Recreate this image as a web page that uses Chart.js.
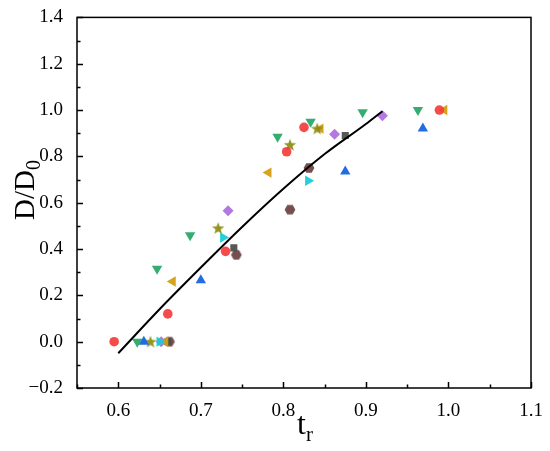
<!DOCTYPE html>
<html>
<head>
<meta charset="utf-8">
<script src="https://cdn.jsdelivr.net/npm/chart.js@4.4.1/dist/chart.umd.min.js"></script>
<style>
  html, body { margin: 0; padding: 0; background: #fff; }
  #wrap { width: 550px; height: 451px; }
</style>
</head>
<body>
<div id="wrap"><canvas id="chart"></canvas></div>
<script>
// data: [tr, D/D0]
const redCircles   = [[0.595, 0], [0.66, 0.12], [0.73, 0.39], [0.804, 0.82], [0.825, 0.925], [0.989, 1.0]];
const greenDown    = [[0.623, 0], [0.647, 0.315], [0.687, 0.46], [0.793, 0.885], [0.833, 0.95], [0.896, 0.99], [0.963, 1.0]];
const blueUp       = [[0.631, 0], [0.70, 0.265], [0.875, 0.735], [0.969, 0.92]];
const oliveStars   = [[0.639, 0], [0.721, 0.49], [0.808, 0.85], [0.841, 0.92]];
const cyanRight    = [[0.65, 0], [0.727, 0.45], [0.83, 0.695]];
const goldLeft     = [[0.657, 0], [0.666, 0.26], [0.782, 0.73], [0.845, 0.92], [0.995, 1.0]];
const purpleDiam   = [[0.652, 0], [0.733, 0.565], [0.862, 0.895], [0.92, 0.975]];
const greySquares  = [[0.66, 0], [0.74, 0.405], [0.875, 0.89]];
const brownHex     = [[0.662, 0], [0.743, 0.375], [0.808, 0.57], [0.831, 0.75]];
const fitCurve     = [[0.6, -0.05], [0.65, 0.14], [0.7, 0.32], [0.75, 0.495], [0.8, 0.66], [0.85, 0.81], [0.9, 0.94], [0.92, 0.995]];

const xTicks = [0.6, 0.7, 0.8, 0.9, 1.0, 1.1];
const yTicks = [-0.2, 0, 0.2, 0.4, 0.6, 0.8, 1.0, 1.2, 1.4];

function pts(arr) { return arr.map(p => ({ x: p[0], y: p[1] })); }

// small canvases for the marker shapes chart.js does not draw filled
function shapeImage(kind, color) {
  const s = 14, c = document.createElement('canvas');
  c.width = s; c.height = s;
  const g = c.getContext('2d');
  g.fillStyle = color;
  g.beginPath();
  if (kind === 'star') {
    for (let i = 0; i < 10; i++) {
      const r = i % 2 ? 2.7 : 6.6;
      const a = -Math.PI / 2 + i * Math.PI / 5;
      g.lineTo(7 + r * Math.cos(a), 7.5 + r * Math.sin(a));
    }
  } else {
    for (let i = 0; i < 6; i++) {
      const a = i * Math.PI / 3;
      g.lineTo(7 + 5.4 * Math.cos(a), 7 + 5.4 * Math.sin(a));
    }
  }
  g.closePath();
  g.fill();
  return c;
}

function scatter(data, color, style, extra) {
  return Object.assign({
    type: 'scatter',
    data: pts(data),
    backgroundColor: color,
    borderColor: color,
    borderWidth: 0,
    pointStyle: style,
    pointRadius: 5
  }, extra || {});
}

const frame = {
  id: 'frame',
  afterDraw(chart) {
    const ctx = chart.ctx, a = chart.chartArea;
    const xs = chart.scales.x, ys = chart.scales.y;
    ctx.save();
    ctx.strokeStyle = '#000';
    ctx.lineWidth = 1.5;
    ctx.strokeRect(a.left, a.top, a.right - a.left, a.bottom - a.top);
    ctx.beginPath();
    for (let i = 0; i <= 11; i++) {
      const v = 0.55 + i * 0.05;
      const px = Math.round(xs.getPixelForValue(v)) + 0.5;
      const len = i % 2 ? 6 : 3.5;
      ctx.moveTo(px, a.bottom);
      ctx.lineTo(px, a.bottom - len);
    }
    for (let i = 0; i <= 16; i++) {
      const v = -0.2 + i * 0.1;
      const py = Math.round(ys.getPixelForValue(v)) + 0.5;
      const len = i % 2 ? 3.5 : 6;
      ctx.moveTo(a.left, py);
      ctx.lineTo(a.left + len, py);
    }
    ctx.stroke();

    // axis titles with subscripts
    ctx.fillStyle = '#000';
    ctx.textBaseline = 'alphabetic';
    ctx.font = '32px "Liberation Serif"';
    const tw = ctx.measureText('t').width;
    ctx.font = '21px "Liberation Serif"';
    const rw = ctx.measureText('r').width;
    let x0 = 305 - (tw + rw) / 2;
    ctx.font = '32px "Liberation Serif"';
    ctx.fillText('t', x0, 434);
    ctx.font = '21px "Liberation Serif"';
    ctx.fillText('r', x0 + tw, 441);

    ctx.translate(34, 190);
    ctx.rotate(-Math.PI / 2);
    ctx.font = '29px "Liberation Serif"';
    const dw = ctx.measureText('D/D').width;
    ctx.font = '20px "Liberation Serif"';
    const zw = ctx.measureText('0').width;
    x0 = -(dw + zw) / 2;
    ctx.font = '29px "Liberation Serif"';
    ctx.fillText('D/D', x0, 0);
    ctx.font = '20px "Liberation Serif"';
    ctx.fillText('0', x0 + dw, 6);
    ctx.restore();
  }
};

function fmt(v) {
  if (Math.abs(v) < 1e-9) return '0.0';
  return (v < 0 ? '\u2212' : '') + Math.abs(v).toFixed(1);
}

new Chart(document.getElementById('chart'), {
  data: {
    datasets: [
      {
        type: 'line',
        data: pts(fitCurve),
        borderColor: '#000',
        borderWidth: 2,
        pointRadius: 0,
        fill: false,
        tension: 0.4,
        cubicInterpolationMode: 'monotone'
      },
      scatter(redCircles, 'rgba(244,60,60,0.92)', 'circle', { pointRadius: 4.8 }),
      scatter(greenDown, 'rgba(38,165,100,0.92)', 'triangle', { pointRotation: 180, pointRadius: 6 }),
      scatter(blueUp, 'rgba(22,100,225,0.95)', 'triangle', { pointRadius: 6 }),
      scatter(oliveStars, '', shapeImage('star', 'rgba(140,140,15,0.92)')),
      scatter(cyanRight, 'rgba(22,205,215,0.95)', 'triangle', { pointRotation: 90, pointRadius: 6 }),
      scatter(goldLeft, 'rgba(212,158,15,0.95)', 'triangle', { pointRotation: -90, pointRadius: 6 }),
      scatter(purpleDiam, 'rgba(172,108,222,0.92)', 'rectRot', { pointRadius: 5.5 }),
      scatter(greySquares, 'rgba(78,78,78,0.95)', 'rect', { pointRadius: 5 }),
      scatter(brownHex, '', shapeImage('hex', 'rgba(110,68,68,0.95)'))
    ]
  },
  plugins: [frame],
  options: {
    responsive: true,
    maintainAspectRatio: false,
    animation: false,
    layout: { padding: { top: 17, right: 19, left: 0, bottom: 0 } },
    plugins: { legend: { display: false }, tooltip: { enabled: false } },
    scales: {
      x: {
        type: 'linear',
        min: 0.55,
        max: 1.1,
        grid: { display: false },
        border: { display: false },
        afterBuildTicks: s => { s.ticks = xTicks.map(v => ({ value: v })); },
        afterFit: s => { s.height = 63; },
        ticks: {
          padding: 4,
          color: '#000',
          font: { family: 'Liberation Serif', size: 19 },
          callback: v => fmt(v),
          maxRotation: 0
        }
      },
      y: {
        type: 'linear',
        min: -0.2,
        max: 1.4,
        grid: { display: false },
        border: { display: false },
        afterBuildTicks: s => { s.ticks = yTicks.map(v => ({ value: v })); },
        afterFit: s => { s.width = 77; },
        ticks: {
          padding: 6,
          color: '#000',
          font: { family: 'Liberation Serif', size: 19 },
          callback: v => fmt(v)
        }
      }
    }
  }
});
</script>
</body>
</html>
